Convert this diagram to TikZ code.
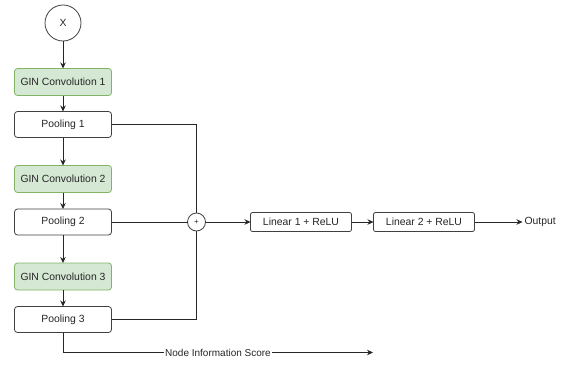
\documentclass[tikz,border=0pt]{standalone}
\usepackage{fontspec}
\setmainfont{Liberation Sans}
\usetikzlibrary{arrows.meta,positioning}

\definecolor{convfill}{HTML}{D5E8D4}
\definecolor{convdraw}{HTML}{82B366}

\begin{document}
\begin{tikzpicture}[
    x=1pt, y=1pt,
    font=\fontsize{10.4}{12}\selectfont, text=black!85,
    every node/.style={outer sep=0pt},
    input/.style={circle, draw=black!75, line width=0.8pt, minimum size=36pt, inner sep=0pt},
    conv/.style={rectangle, draw=convdraw, fill=convfill, line width=0.8pt, minimum width=97pt, minimum height=27pt, inner sep=0pt, rounded corners=3pt},
    pool/.style={rectangle, draw=black!75, fill=white, line width=0.8pt, minimum width=97pt, minimum height=26pt, inner sep=0pt, rounded corners=3pt},
    linear/.style={rectangle, draw=black!75, fill=white, line width=0.8pt, minimum width=101pt, minimum height=19pt, inner sep=0pt, rounded corners=2pt},
    summ/.style={circle, draw=black!75, line width=0.8pt, minimum size=18pt, inner sep=0pt, font=\fontsize{8}{9}\selectfont},
    arrow/.style={line width=0.8pt, draw=black!85, ->, >={Stealth[length=6pt,width=5.5pt]}},
    line/.style={line width=0.8pt, draw=black!85}
]
\useasboundingbox (0,0) rectangle (569,-364);

% Encoder column (left)
\node[input] (x) at (63,-23) {X};
\node[conv, below=27.5pt of x] (gin1) {GIN Convolution 1};
\node[pool, below=16pt of gin1] (pool1) {Pooling 1};
\node[conv, below=28pt of pool1] (gin2) {GIN Convolution 2};
\node[pool, below=16.5pt of gin2] (pool2) {Pooling 2};
\node[conv, below=28pt of pool2] (gin3) {GIN Convolution 3};
\node[pool, below=16.5pt of gin3] (pool3) {Pooling 3};

% Readout (right)
\node[summ, right=76pt of pool2] (plus) {+};
\node[linear, right=45pt of plus] (lin1) {Linear 1 + ReLU};
\node[linear, right=22pt of lin1] (lin2) {Linear 2 + ReLU};
\coordinate[right=48pt of lin2] (out);
\node[anchor=west, inner sep=2pt] (outlabel) at (out) {Output};

% Score output
\coordinate[below=20pt of pool3] (nisturn);
\coordinate[right=310pt of nisturn] (nisend);

% Column flow
\draw[arrow] (x) -- (gin1);
\draw[arrow] (gin1) -- (pool1);
\draw[arrow] (pool1) -- (gin2);
\draw[arrow] (gin2) -- (pool2);
\draw[arrow] (pool2) -- (gin3);
\draw[arrow] (gin3) -- (pool3);

% Sum of pooled features
\draw[line] (pool1.east) -| (plus.north);
\draw[line] (pool2.east) -- (plus.west);
\draw[line] (pool3.east) -| (plus.south);

\draw[arrow] (plus) -- (lin1);
\draw[arrow] (lin1) -- (lin2);
\draw[arrow] (lin2) -- (out);

\draw[arrow] (pool3.south) -- (nisturn) -- node[fill=white, inner sep=1pt, font=\fontsize{10}{12}\selectfont] {Node Information Score} (nisend);

\end{tikzpicture}
\end{document}
